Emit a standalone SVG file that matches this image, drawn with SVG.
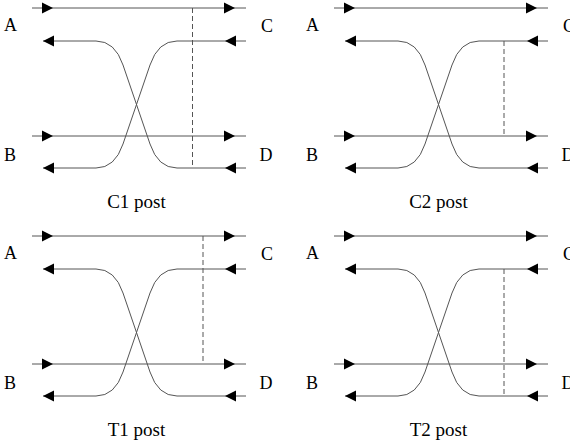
<svg xmlns="http://www.w3.org/2000/svg" xmlns:xlink="http://www.w3.org/1999/xlink" width="570" height="443" viewBox="0 0 570 443">
<style>
.ln{fill:none;stroke:#555;stroke-width:1}
.ds{fill:none;stroke:#555;stroke-width:1;stroke-dasharray:5,3}
.lb{font-family:"Liberation Serif","Times New Roman",serif;font-size:18px;fill:#000}
.tt{font-family:"Liberation Serif","Times New Roman",serif;font-size:19px;fill:#000;text-anchor:middle}
</style>
<defs>
<path id="ar" d="M0,0 L-11,-5.5 L-11,5.5 Z" fill="#000"/>
<path id="al" d="M0,0 L11,-5.5 L11,5.5 Z" fill="#000"/>
<g id="base">
<path class="ln" d="M32,8 H246"/>
<path class="ln" d="M32,136 H246"/>
<path class="ln" d="M43,41 H96 Q115,41 123,65 L150,144 Q158,168 177,168 H246"/>
<path class="ln" d="M246,41 H177 Q158,41 150,65 L123,144 Q115,168 96,168 H43"/>
<use xlink:href="#ar" x="53" y="8"/>
<use xlink:href="#ar" x="235" y="8"/>
<use xlink:href="#ar" x="53" y="136"/>
<use xlink:href="#ar" x="235" y="136"/>
<use xlink:href="#al" x="43" y="41"/>
<use xlink:href="#al" x="225" y="41"/>
<use xlink:href="#al" x="43" y="168"/>
<use xlink:href="#al" x="225" y="168"/>
</g>
<g id="labels">
<text class="lb" x="4" y="31">A</text>
<text class="lb" x="4" y="160.5">B</text>
<text class="lb" x="261" y="31.5">C</text>
<text class="lb" x="259.5" y="160.5">D</text>
</g>
</defs>
<g id="c1post">
<use xlink:href="#labels"/>
<text class="tt" x="136.5" y="208">C1 post</text>
</g>
<g id="c2post" transform="translate(302,0)">
<use xlink:href="#labels"/>
<text class="tt" x="136.5" y="208">C2 post</text>
</g>
<g id="t1post" transform="translate(0,228)">
<use xlink:href="#labels"/>
<text class="tt" x="136.5" y="208">T1 post</text>
</g>
<g id="t2post" transform="translate(302,228)">
<use xlink:href="#labels"/>
<text class="tt" x="136.5" y="208">T2 post</text>
</g>
<g id="connectors">
<use xlink:href="#base"/>
<use xlink:href="#base" transform="translate(302,0)"/>
<use xlink:href="#base" transform="translate(0,228)"/>
<use xlink:href="#base" transform="translate(302,228)"/>
<path class="ds" d="M192.5,8 V168"/>
<path class="ds" d="M504,41 V136"/>
<path class="ds" d="M203,236 V364"/>
<path class="ds" d="M504,269 V396"/>
</g>
</svg>
